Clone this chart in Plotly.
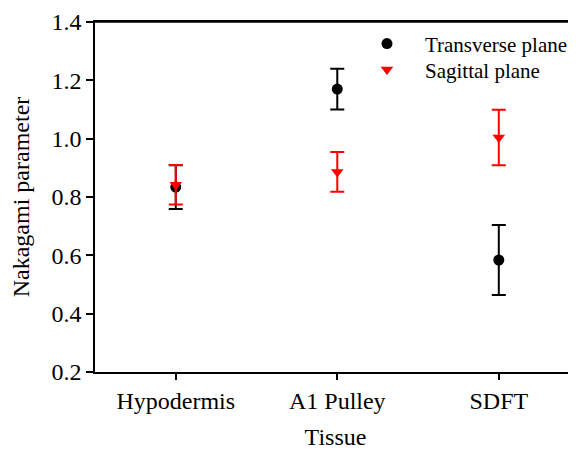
import plotly.graph_objects as go

tissues = ["Hypodermis", "A1 Pulley", "SDFT"]
transverse_mean = [0.834, 1.170, 0.584]
transverse_err = [0.075, 0.070, 0.120]
sagittal_mean = [0.842, 0.886, 1.004]
sagittal_err = [0.068, 0.068, 0.095]
x_pos = [0, 1, 2]

serif = "Liberation Serif"
tick_font = dict(family=serif, size=24, color="black")
legend_font = dict(family=serif, size=21, color="black")

fig = go.Figure()
fig.add_trace(go.Scatter(
    x=x_pos, y=transverse_mean, mode="markers", name="Transverse plane",
    marker=dict(symbol="circle", size=11, color="black"),
    error_y=dict(type="data", array=transverse_err, visible=True,
                 color="black", thickness=2, width=7),
    legend="legend",
))
fig.add_trace(go.Scatter(
    x=x_pos, y=sagittal_mean, mode="markers", name="Sagittal plane",
    marker=dict(symbol="triangle-down", size=11, color="red"),
    error_y=dict(type="data", array=sagittal_err, visible=True,
                 color="red", thickness=2, width=7),
    legend="legend2",
))

# page body has an 8px margin; figure size and margins compensate for it
fig.update_layout(
    width=568, height=442,
    margin=dict(l=87, r=0, t=14, b=78, autoexpand=False),
    paper_bgcolor="white", plot_bgcolor="white",
    font=dict(family=serif, size=24, color="black"),
    showlegend=True,
    legend=dict(x=0.528, y=0.996, xanchor="left", yanchor="top",
                font=legend_font, bgcolor="rgba(0,0,0,0)", itemwidth=66),
    legend2=dict(x=0.528, y=0.922, xanchor="left", yanchor="top",
                 font=legend_font, bgcolor="rgba(0,0,0,0)", itemwidth=66),
    xaxis=dict(
        range=[-0.5, 2.478], tickmode="array", tickvals=x_pos, ticktext=tissues,
        tickfont=tick_font, automargin=False,
        showgrid=False, zeroline=False, showline=True, linecolor="black",
        linewidth=1.5, mirror=True, ticks="outside", ticklen=6, tickwidth=1.5,
        tickcolor="black",
        title=dict(text="Tissue", standoff=18, font=tick_font),
    ),
    yaxis=dict(
        range=[0.2, 1.4], tickmode="array",
        tickvals=[0.2, 0.4, 0.6, 0.8, 1.0, 1.2, 1.4],
        ticktext=["0.2", "0.4", "0.6", "0.8", "1.0", "1.2", "1.4"],
        tickfont=tick_font, automargin=False,
        showgrid=False, zeroline=False, showline=True, linecolor="black",
        linewidth=1.5, ticks="outside", ticklen=7, tickwidth=1.5, tickcolor="black",
        title=dict(text="Nakagami parameter", standoff=16, font=tick_font),
    ),
    shapes=[dict(type="line", xref="paper", yref="paper", x0=0, x1=1, y0=1, y1=1,
                 line=dict(color="black", width=1.5))],
)

fig.write_html("out.html")
